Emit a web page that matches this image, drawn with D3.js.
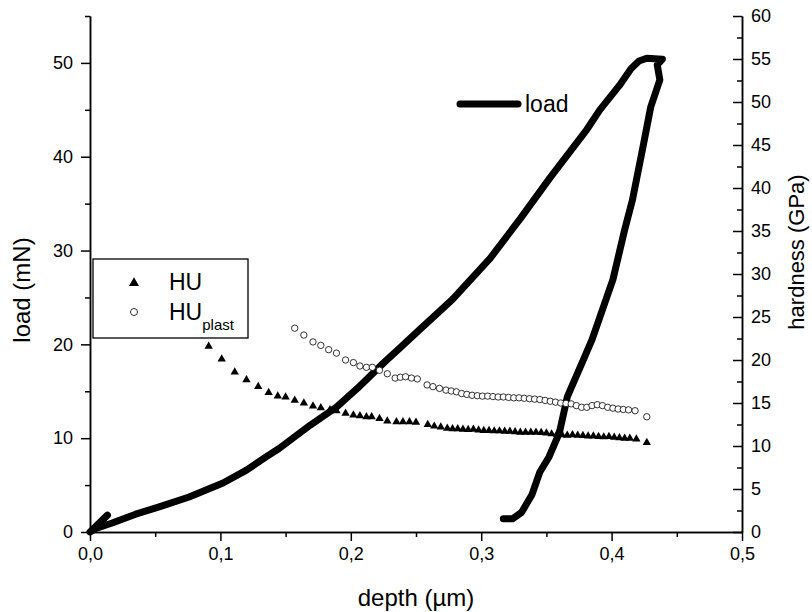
<!DOCTYPE html>
<html>
<head>
<meta charset="utf-8">
<script src="https://cdn.jsdelivr.net/npm/d3@7"></script>
<style>
  body { margin: 0; background: #fff; }
  svg { font-family: Arial, "Liberation Sans", sans-serif; }
  .axis path, .axis line { stroke: #000; stroke-width: 1.5; }
  .axis text { font-size: 18px; fill: #000; }
</style>
</head>
<body>
<div id="chart"></div>
<script>
// depth (µm), load (mN) : loading then unloading
const loadCurve = [
    [0.0134, 1.8], [0.0, 0.0], [0.005, 0.4], [0.017, 0.96], [0.035, 1.9],
    [0.053, 2.67], [0.076, 3.73], [0.102, 5.22], [0.120, 6.6], [0.135, 8.0],
    [0.145, 8.9], [0.169, 11.4], [0.189, 13.3], [0.205, 15.3], [0.225, 18.0],
    [0.2375, 19.6], [0.253, 21.6], [0.278, 24.8], [0.307, 29.2], [0.330, 33.4],
    [0.353, 37.8], [0.381, 42.9], [0.391, 45.0], [0.406, 47.6], [0.415, 49.4],
    [0.421, 50.2], [0.427, 50.5], [0.439, 50.4], [0.435, 49.8], [0.437, 48.2],
    [0.430, 45.3], [0.424, 41.0], [0.419, 37.5], [0.416, 35.4], [0.410, 32.2],
    [0.401, 26.9], [0.393, 23.7], [0.385, 20.5], [0.376, 17.6], [0.366, 14.4],
    [0.360, 10.6], [0.352, 8.0], [0.345, 6.4], [0.339, 4.0], [0.331, 2.1],
    [0.324, 1.4], [0.317, 1.4]
];

// depth (µm), HU (GPa)
const huData = [
    [0.091, 21.6], [0.101, 20.1], [0.111, 18.6], [0.120, 17.7], [0.129, 16.9],
    [0.137, 16.2], [0.144, 15.8], [0.150, 15.7], [0.157, 15.3], [0.164, 15.0],
    [0.171, 14.65], [0.177, 14.45], [0.184, 14.2], [0.189, 14.1], [0.196, 13.8],
    [0.202, 13.6], [0.207, 13.5], [0.212, 13.4], [0.216, 13.4], [0.222, 13.2],
    [0.228, 12.9], [0.235, 12.8], [0.240, 12.8], [0.245, 12.8], [0.250, 12.75],
    [0.259, 12.5], [0.264, 12.3], [0.269, 12.2], [0.274, 12.05], [0.278, 12.0],
    [0.282, 12.0], [0.286, 11.95], [0.290, 11.9], [0.294, 11.95], [0.298, 11.85],
    [0.302, 11.8], [0.306, 11.8], [0.310, 11.75], [0.314, 11.75], [0.318, 11.7],
    [0.322, 11.7], [0.326, 11.65], [0.330, 11.6], [0.334, 11.6], [0.338, 11.6],
    [0.342, 11.6], [0.346, 11.55], [0.350, 11.5], [0.354, 11.4], [0.358, 11.35],
    [0.362, 11.3], [0.366, 11.25], [0.370, 11.3], [0.374, 11.25], [0.378, 11.2],
    [0.382, 11.15], [0.386, 11.15], [0.390, 11.1], [0.394, 11.05], [0.398, 11.1],
    [0.402, 11.0], [0.406, 10.95], [0.410, 10.9], [0.414, 10.9], [0.419, 10.8],
    [0.427, 10.4]
];

// depth (µm), HU plast (GPa)
const huPlastData = [
    [0.157, 23.7], [0.164, 22.9], [0.171, 22.1], [0.177, 21.7], [0.183, 21.2],
    [0.189, 20.8], [0.196, 20.0], [0.202, 19.7], [0.207, 19.3], [0.212, 19.15],
    [0.2165, 19.15], [0.222, 18.8], [0.228, 18.4], [0.234, 17.9], [0.238, 18.0],
    [0.242, 18.05], [0.2465, 17.9], [0.251, 17.8], [0.2585, 17.1], [0.263, 16.9],
    [0.268, 16.7], [0.273, 16.5], [0.277, 16.4], [0.281, 16.3], [0.285, 16.1],
    [0.289, 16.0], [0.293, 15.9], [0.297, 15.85], [0.301, 15.8], [0.305, 15.8],
    [0.309, 15.75], [0.313, 15.7], [0.317, 15.7], [0.321, 15.65], [0.325, 15.6],
    [0.329, 15.6], [0.333, 15.55], [0.337, 15.5], [0.341, 15.45], [0.345, 15.4],
    [0.349, 15.3], [0.353, 15.2], [0.357, 15.1], [0.361, 15.0], [0.365, 14.95],
    [0.369, 14.9], [0.373, 14.7], [0.377, 14.5], [0.381, 14.5], [0.385, 14.7],
    [0.389, 14.8], [0.393, 14.7], [0.397, 14.5], [0.401, 14.4], [0.405, 14.3],
    [0.409, 14.25], [0.413, 14.2], [0.418, 14.1], [0.427, 13.4]
];

const depthTicks = [0, 0.1, 0.2, 0.3, 0.4, 0.5];
const depthMinor = [0.05, 0.15, 0.25, 0.35, 0.45];
const loadTicks = [0, 10, 20, 30, 40, 50];
const loadMinor = [5, 15, 25, 35, 45, 55];
const hardTicks = d3.range(0, 61, 5);
const hardMinor = d3.range(2.5, 60, 5);

const W = 812, H = 612;
const margin = {top: 16, right: 70, bottom: 80, left: 90};
const width = W - margin.left - margin.right;
const height = H - margin.top - margin.bottom;

const svg = d3.select("#chart").append("svg")
    .attr("width", W)
    .attr("height", H);
const g = svg.append("g")
    .attr("transform", "translate(" + margin.left + "," + margin.top + ")");

// Scales
const x = d3.scaleLinear().domain([0, 0.5]).range([0, width]);
const yL = d3.scaleLinear().domain([0, 55]).range([height, 0]);
const yR = d3.scaleLinear().domain([0, 60]).range([height, 0]);

const commaFmt = d => d3.format(".1f")(d).replace(".", ",");

// Axes: major + minor ticks
g.append("g").attr("class", "axis")
    .attr("transform", "translate(0," + height + ")")
    .call(d3.axisBottom(x).tickValues(depthTicks).tickFormat(commaFmt)
        .tickSize(9).tickSizeOuter(0).tickPadding(6));
g.append("g").attr("class", "axis")
    .attr("transform", "translate(0," + height + ")")
    .call(d3.axisBottom(x).tickValues(depthMinor).tickFormat("").tickSize(5).tickSizeOuter(0));

g.append("g").attr("class", "axis")
    .call(d3.axisLeft(yL).tickValues(loadTicks).tickSize(9).tickSizeOuter(0).tickPadding(8));
g.append("g").attr("class", "axis")
    .call(d3.axisLeft(yL).tickValues(loadMinor).tickFormat("").tickSize(5).tickSizeOuter(0));

g.append("g").attr("class", "axis")
    .attr("transform", "translate(" + width + ",0)")
    .call(d3.axisRight(yR).tickValues(hardTicks).tickSize(-9).tickSizeOuter(0).tickPadding(9));
g.append("g").attr("class", "axis")
    .attr("transform", "translate(" + width + ",0)")
    .call(d3.axisRight(yR).tickValues(hardMinor).tickFormat("").tickSize(-5).tickSizeOuter(0));

// Axis titles
g.append("text")
    .attr("x", width / 2).attr("y", height + 74)
    .attr("text-anchor", "middle")
    .style("font-size", "24px")
    .text("depth (µm)");
g.append("text")
    .attr("transform", "translate(-60," + (height / 2 + 16) + ") rotate(-90)")
    .attr("text-anchor", "middle")
    .style("font-size", "24px")
    .text("load (mN)");
g.append("text")
    .attr("transform", "translate(" + (width + 62) + "," + (height / 2 - 22) + ") rotate(-90)")
    .attr("text-anchor", "middle")
    .style("font-size", "22px")
    .text("hardness (GPa)");

// Load curve
const line = d3.line()
    .x(d => x(d[0]))
    .y(d => yL(d[1]));
g.append("path")
    .datum(loadCurve)
    .attr("d", line)
    .attr("fill", "none")
    .attr("stroke", "#000")
    .attr("stroke-width", 7)
    .attr("stroke-linejoin", "round")
    .attr("stroke-linecap", "round");

// Hardness markers
const tri = d3.symbol().type(d3.symbolTriangle).size(30);
g.selectAll(".hu").data(huData).enter().append("path")
    .attr("class", "hu")
    .attr("d", tri)
    .attr("transform", d => "translate(" + x(d[0]) + "," + yR(d[1]) + ")")
    .attr("fill", "#000");

g.selectAll(".hup").data(huPlastData).enter().append("circle")
    .attr("class", "hup")
    .attr("cx", d => x(d[0]))
    .attr("cy", d => yR(d[1]))
    .attr("r", 3.2)
    .attr("fill", "#fff")
    .attr("stroke", "#000")
    .attr("stroke-width", 0.8);

// Legend for markers
const leg = g.append("g").attr("transform", "translate(3,243)");
leg.append("rect")
    .attr("width", 155).attr("height", 79)
    .attr("fill", "#fff").attr("stroke", "#000").attr("stroke-width", 1.3);
leg.append("path").attr("d", d3.symbol().type(d3.symbolTriangle).size(44))
    .attr("transform", "translate(41,24)").attr("fill", "#000");
leg.append("circle").attr("cx", 41).attr("cy", 53).attr("r", 3.5)
    .attr("fill", "#fff").attr("stroke", "#000").attr("stroke-width", 0.8);
leg.append("text").attr("x", 76).attr("y", 31).style("font-size", "23px").text("HU");
const hp = leg.append("text").attr("x", 76).attr("y", 60.5).style("font-size", "23px");
hp.append("tspan").text("HU");
hp.append("tspan").attr("dy", 10).style("font-size", "15px").text("plast");

// Legend for load
const leg2 = g.append("g").attr("transform", "translate(370,88)");
leg2.append("line").attr("x1", 0).attr("x2", 58).attr("y1", 0).attr("y2", 0)
    .attr("stroke", "#000").attr("stroke-width", 7).attr("stroke-linecap", "round");
leg2.append("text").attr("x", 65).attr("y", 8).style("font-size", "23px").text("load");
</script>
</body>
</html>
